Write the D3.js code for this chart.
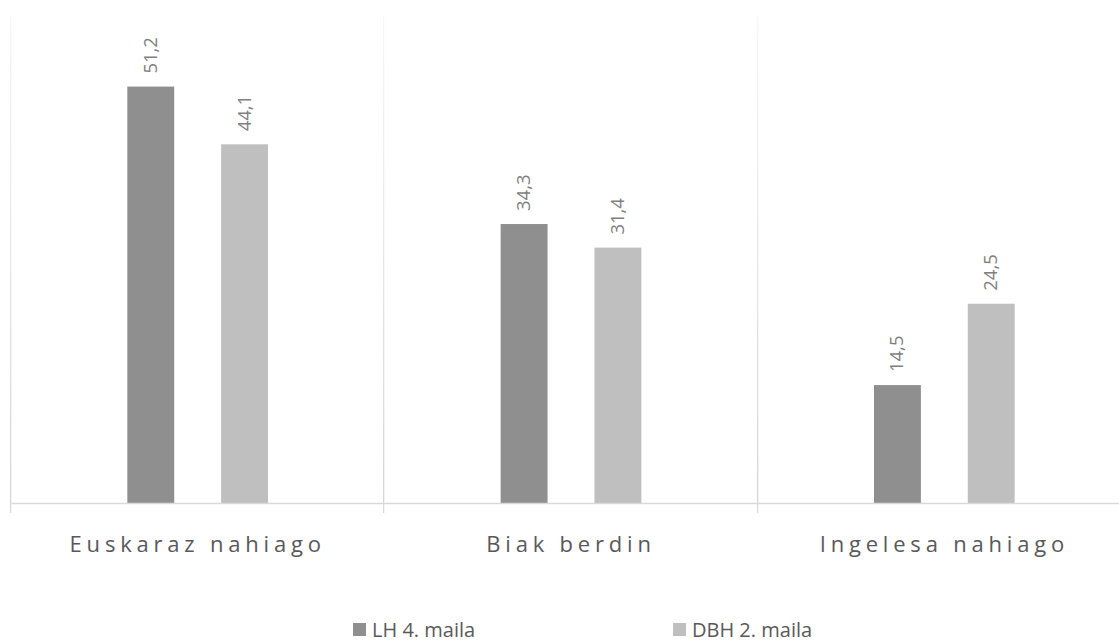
<!DOCTYPE html>
<html>
<head>
<meta charset="utf-8">
<script src="https://cdn.jsdelivr.net/npm/d3@7"></script>
<style>
  html, body { margin: 0; padding: 0; background: #ffffff; }
  svg { display: block; }
  text { font-family: "Open Sans", "Liberation Sans", sans-serif; }
</style>
</head>
<body>
<div id="chart"></div>
<script>
// Language preference by school level
const categories = ["Euskaraz nahiago", "Biak berdin", "Ingelesa nahiago"];
const seriesNames = ["LH 4. maila", "DBH 2. maila"];
const lhValues = [51.2, 34.3, 14.5];
const dbhValues = [44.1, 31.4, 24.5];
const seriesColors = ["#8f8f8f", "#bfbfbf"];

const width = 1119, height = 644;
const plot = { left: 11, right: 1131, top: 15, bottom: 503 };

const svg = d3.select("#chart").append("svg")
  .attr("width", width).attr("height", height);

const defs = svg.append("defs");
const grad = defs.append("linearGradient")
  .attr("id", "gridFade").attr("x1", 0).attr("y1", 1).attr("x2", 0).attr("y2", 0);
grad.append("stop").attr("offset", "0%").attr("stop-color", "#d6d6d6");
grad.append("stop").attr("offset", "100%").attr("stop-color", "#f7f7f7");

const x0 = d3.scaleBand().domain(categories).range([plot.left, plot.right]).padding(0);
const x1 = d3.scaleBand().domain(seriesNames).range([0, x0.bandwidth()])
  .paddingInner(0.5).paddingOuter(1.24);
const y = d3.scaleLinear().domain([0, 60]).range([plot.bottom, plot.top]);

// vertical separators between categories
const boundaries = categories.map(c => x0(c)).concat([x0.range()[1]]);
svg.append("g").selectAll("rect.sep").data(boundaries).join("rect")
  .attr("x", d => Math.round(d) - 1)
  .attr("y", plot.top)
  .attr("width", 1.3)
  .attr("height", plot.bottom - plot.top)
  .attr("fill", "url(#gridFade)");

const rows = categories.map((c, i) => ({ cat: c, vals: [lhValues[i], dbhValues[i]] }));

const groups = svg.append("g").selectAll("g").data(rows).join("g")
  .attr("transform", d => `translate(${x0(d.cat)},0)`);

groups.selectAll("rect").data(d => d.vals.map((v, j) => ({ s: seriesNames[j], v, j })))
  .join("rect")
  .attr("x", d => x1(d.s))
  .attr("y", d => y(d.v))
  .attr("width", x1.bandwidth())
  .attr("height", d => y(0) - y(d.v))
  .attr("fill", d => seriesColors[d.j]);

// rotated value labels
groups.selectAll("text").data(d => d.vals.map((v, j) => ({ s: seriesNames[j], v, j })))
  .join("text")
  .attr("transform", d => `translate(${x1(d.s) + x1.bandwidth() / 2 + 6},${y(d.v) - 13}) rotate(-90)`)
  .attr("text-anchor", "start")
  .attr("font-size", 18.5)
  .attr("fill", "#7f7f7f")
  .text(d => d3.format(".1f")(d.v).replace(".", ","));

// baseline axis with category labels
const axis = d3.axisBottom(x0).tickSize(0).tickFormat(d => d);
const ax = svg.append("g").attr("transform", `translate(0,${plot.bottom})`).call(axis);
ax.select(".domain").attr("stroke", "#d9d9d9").attr("stroke-width", 1.3);
ax.selectAll(".tick text")
  .attr("dy", 0).attr("y", 49)
  .attr("dx", 0)
  .attr("font-size", 22)
  .attr("fill", "#595959")
  .attr("letter-spacing", "4.8px");
ax.selectAll("line.sepTick").data(boundaries).join("line")
  .attr("class", "sepTick")
  .attr("x1", d => Math.round(d) - 0.4).attr("x2", d => Math.round(d) - 0.4)
  .attr("y1", 0).attr("y2", 10)
  .attr("stroke", "#d9d9d9").attr("stroke-width", 1.3);

// legend
const legendX = [353, 673];
const legend = svg.append("g").selectAll("g").data(seriesNames).join("g")
  .attr("transform", (d, i) => `translate(${legendX[i]},0)`);
legend.append("rect").attr("x", 0).attr("y", 623).attr("width", 13).attr("height", 13)
  .attr("fill", (d, i) => seriesColors[i]);
legend.append("text").attr("x", 19).attr("y", 637)
  .attr("font-size", 20).attr("fill", "#595959")
  .text(d => d);
</script>
</body>
</html>
